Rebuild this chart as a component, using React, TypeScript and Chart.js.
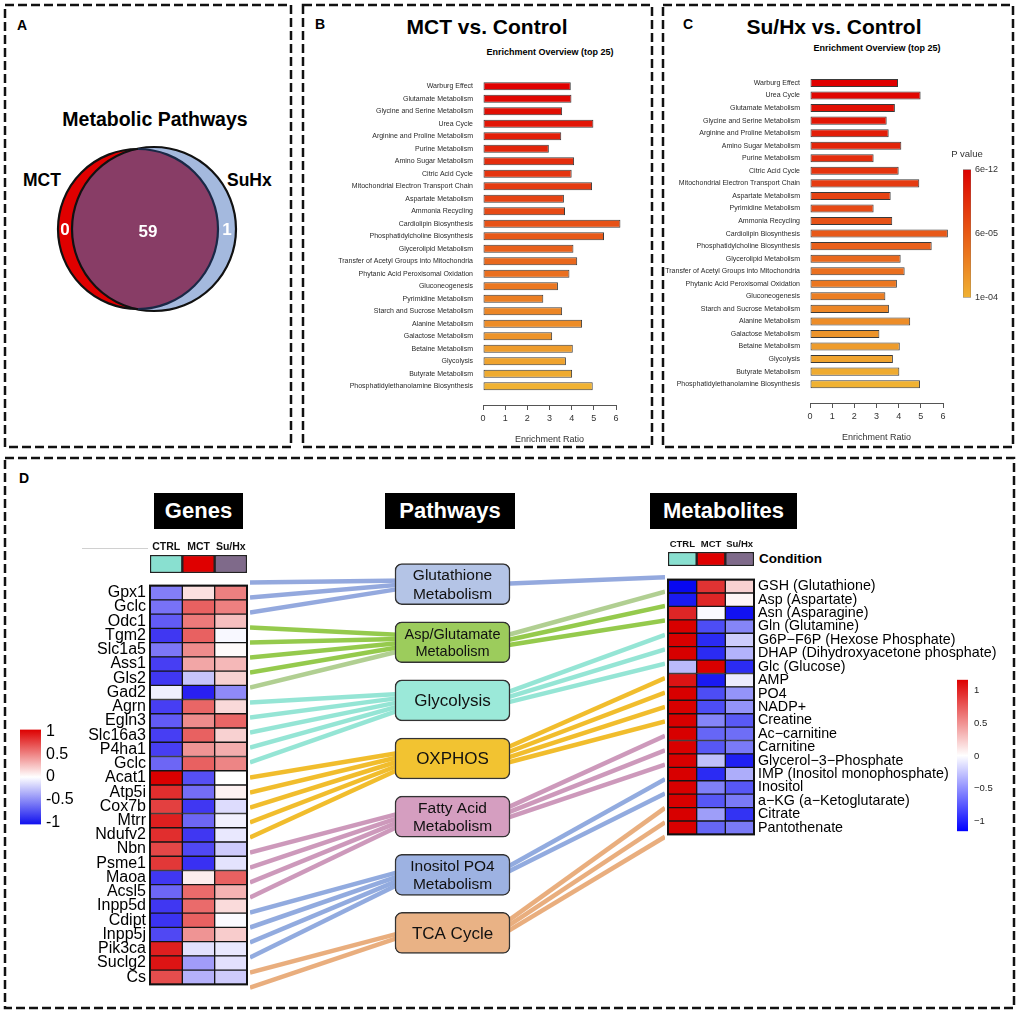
import React, { useEffect, useRef } from "react";
import { Chart, registerables } from "chart.js";

Chart.register(...registerables);

const FONT = "'Liberation Sans', Arial, Helvetica, sans-serif";
Chart.defaults.font.family = FONT;
Chart.defaults.color = "#222";

// ---------------- DATA ----------------
// Panel A – Venn counts
const vennSets = ["MCT", "SuHx"];
const vennUnique = [0, 1];
const vennShared = 59;

// Panel B – MCT vs. Control
const mctPathways = [
  "Warburg Effect", "Glutamate Metabolism", "Glycine and Serine Metabolism", "Urea Cycle",
  "Arginine and Proline Metabolism", "Purine Metabolism", "Amino Sugar Metabolism", "Citric Acid Cycle",
  "Mitochondrial Electron Transport Chain", "Aspartate Metabolism", "Ammonia Recycling",
  "Cardiolipin Biosynthesis", "Phosphatidylcholine Biosynthesis", "Glycerolipid Metabolism",
  "Transfer of Acetyl Groups into Mitochondria", "Phytanic Acid Peroxisomal Oxidation", "Gluconeogenesis",
  "Pyrimidine Metabolism", "Starch and Sucrose Metabolism", "Alanine Metabolism", "Galactose Metabolism",
  "Betaine Metabolism", "Glycolysis", "Butyrate Metabolism", "Phosphatidylethanolamine Biosynthesis",
];
const mctRatios = [3.96, 3.99, 3.57, 4.98, 3.53, 2.97, 4.11, 4.0, 4.92, 3.65, 3.7, 6.2, 5.46, 4.08, 4.25, 3.9, 3.38, 2.72, 3.57, 4.47, 3.12, 4.05, 3.74, 4.02, 4.95];

// Panel C – Su/Hx vs. Control
const suhxPathways = [
  "Warburg Effect", "Urea Cycle", "Glutamate Metabolism", "Glycine and Serine Metabolism",
  "Arginine and Proline Metabolism", "Amino Sugar Metabolism", "Purine Metabolism", "Citric Acid Cycle",
  "Mitochondrial Electron Transport Chain", "Aspartate Metabolism", "Pyrimidine Metabolism", "Ammonia Recycling",
  "Cardiolipin Biosynthesis", "Phosphatidylcholine Biosynthesis", "Glycerolipid Metabolism",
  "Transfer of Acetyl Groups into Mitochondria", "Phytanic Acid Peroxisomal Oxidation", "Gluconeogenesis",
  "Starch and Sucrose Metabolism", "Alanine Metabolism", "Galactose Metabolism", "Betaine Metabolism",
  "Glycolysis", "Butyrate Metabolism", "Phosphatidylethanolamine Biosynthesis",
];
const suhxRatios = [3.97, 4.99, 3.83, 3.46, 3.55, 4.12, 2.87, 4.0, 4.93, 3.64, 2.87, 3.71, 6.22, 5.49, 4.09, 4.27, 3.92, 3.4, 3.56, 4.52, 3.13, 4.05, 3.74, 4.03, 4.96];

const enrichmentTicks = [0, 1, 2, 3, 4, 5, 6];
const pValueTicks = ["6e-12", "6e-05", "1e-04"]; // top to bottom

// Panel D
const conditions = ["CTRL", "MCT", "Su/Hx"];
const geneNames = [
  "Gpx1", "Gclc", "Odc1", "Tgm2", "Slc1a5", "Ass1", "Gls2", "Gad2", "Agrn", "Egln3", "Slc16a3", "P4ha1", "Gclc",
  "Acat1", "Atp5i", "Cox7b", "Mtrr", "Ndufv2", "Nbn", "Psme1", "Maoa", "Acsl5", "Inpp5d", "Cdipt", "Inpp5j",
  "Pik3ca", "Suclg2", "Cs",
];
const geneCtrl = [-0.55, -0.6, -0.7, -0.85, -0.58, -0.82, -0.85, -0.07, -0.82, -0.7, -0.82, -0.82, -0.65, 1.0, 0.82, 0.75, 0.88, 0.82, 0.72, 0.78, -0.85, -0.65, -0.85, -0.87, -0.78, 0.88, 0.92, 0.7];
const geneMct = [0.12, 0.62, 0.52, 0.62, 0.45, 0.35, -0.25, -0.95, 0.6, 0.45, 0.62, 0.42, 0.62, -0.75, -0.62, -0.85, -0.65, -0.85, -0.78, -0.88, 0.07, 0.58, 0.58, 0.62, 0.42, -0.13, -0.42, -0.33];
const geneSuhx = [0.5, 0.5, 0.25, -0.03, 0.02, 0.28, 0.18, -0.5, 0.15, 0.6, 0.18, 0.32, 0.48, 0.0, 0.05, -0.15, -0.06, -0.1, -0.22, -0.12, 0.62, 0.3, 0.14, -0.02, 0.2, -0.1, -0.13, -0.22];

const metNames = [
  "GSH (Glutathione)", "Asp (Aspartate)", "Asn (Asparagine)", "Gln (Glutamine)", "G6P\u2212F6P (Hexose Phosphate)",
  "DHAP (Dihydroxyacetone phosphate)", "Glc (Glucose)", "AMP", "PO4", "NADP+", "Creatine", "Ac\u2212carnitine",
  "Carnitine", "Glycerol\u22123\u2212Phosphate", "IMP (Inositol monophosphate)", "Inositol",
  "a\u2212KG (a\u2212Ketoglutarate)", "Citrate", "Pantothenate",
];
const metCtrl = [-0.97, -0.9, 0.85, 1.0, 1.0, 1.0, -0.27, 0.92, 1.0, 1.0, 1.0, 1.0, 1.0, 1.0, 1.0, 1.0, 1.0, 1.0, 1.0];
const metMct = [0.8, 0.85, -0.02, -0.7, -0.83, -0.83, 1.0, -0.9, -0.7, -0.7, -0.48, -0.6, -0.66, -0.25, -0.83, -0.5, -0.66, -0.38, -0.6];
const metSuhx = [0.18, 0.04, -0.93, -0.48, -0.2, -0.3, -0.83, -0.08, -0.42, -0.42, -0.65, -0.57, -0.52, -0.88, -0.32, -0.66, -0.52, -0.8, -0.52];

const pathways = [
  "Glutathione\nMetabolism", "Asp/Glutamate\nMetabolism", "Glycolysis", "OXPHOS",
  "Fatty Acid\nMetabolism", "Inositol PO4\nMetabolism", "TCA Cycle",
];
const geneToPathway = [0, 0, 0, 1, 1, 1, 1, 1, 2, 2, 2, 2, 2, 3, 3, 3, 3, 3, 4, 4, 4, 4, 5, 5, 5, 5, 6, 6];
const metToPathway = [0, 1, 1, 1, 2, 2, 2, 3, 3, 3, 3, 4, 4, 4, 5, 5, 6, 6, 6];
const fadedGeneLinks = ["Gad2"];
const fadedMetLinks = ["Asp (Aspartate)"];

const geneLegendTicks = [-1, -0.5, 0, 0.5, 1];
const metLegendTicks = [-1, -0.5, 0, 0.5, 1];

// ---------------- STYLE / LAYOUT ----------------
const conditionColors = ["#89e0d0", "#df0000", "#7f6a8a"];
const pathwayFill = ["#b4c4e6", "#9ccc5c", "#9be9d9", "#f2c331", "#d59ec0", "#9db2e2", "#e9b285"];
const pathwayLine = ["rgba(136,160,218,0.9)", "rgba(137,196,58,0.9)", "rgba(138,226,208,0.9)", "rgba(240,182,22,0.9)", "rgba(200,142,180,0.9)", "rgba(134,162,220,0.9)", "rgba(231,165,112,0.9)"];
const fadedLine = "rgba(168,202,134,0.9)";
const pathwayFont = [15.5, 14.5, 17, 17, 15.5, 15.5, 17];

const L = {
  geneTop: 575, geneRow: 15, metTop: 570, metRow: 274 / 19,
  connLeft: 250, connRight: 665, connMin: -1, connMax: 28.4,
  boxLeft: 395, boxRight: 510, boxH: 41, pathTop: 584.1, pathStep: 58.14,
  fanGene: 3.5, fanMet: 4.5,
};

const base: any = {
  responsive: false,
  animation: false,
  events: [],
  plugins: { legend: { display: false }, tooltip: { enabled: false }, title: { display: false } },
};

function mix(a: number[], b: number[], t: number) {
  return a.map((v, i) => Math.round(v + (b[i] - v) * t));
}
function rgb(c: number[]) {
  return `rgb(${c[0]},${c[1]},${c[2]})`;
}
function ramp(t: number) {
  return rgb(mix([224, 0, 0], [240, 178, 50], t));
}
function heat(neg: number[], pos: number[]) {
  return (v: number) => {
    const t = Math.max(-1, Math.min(1, v));
    return rgb(mix([255, 255, 255], t < 0 ? neg : pos, Math.abs(t)));
  };
}
const geneHeat = heat([30, 20, 240], [218, 0, 0]);
const metHeat = heat([0, 0, 240], [216, 0, 0]);

const framePlugin = (lw: number) => ({
  id: "frame",
  afterDatasetsDraw(chart: any) {
    const { ctx, chartArea: a } = chart;
    ctx.save();
    ctx.strokeStyle = "#111";
    ctx.lineWidth = lw;
    ctx.strokeRect(a.left, a.top, a.right - a.left, a.bottom - a.top);
    ctx.restore();
  },
});

// ---------------- CONFIGS ----------------
function vennConfig() {
  const V = { mctDx: -10, suhxDx: 6, rMct: 80, rSuhx: 82 };
  const vennPlugin = {
    id: "venn",
    afterDatasetsDraw(chart: any) {
      const ctx = chart.ctx;
      const s = chart.getDatasetMeta(0).data[0];
      const m = chart.getDatasetMeta(1).data[0];
      const rs = s.options.radius, rm = m.options.radius;
      ctx.save();
      ctx.beginPath();
      ctx.arc(m.x, m.y, rm, 0, Math.PI * 2);
      ctx.clip();
      ctx.beginPath();
      ctx.arc(s.x, s.y, rs, 0, Math.PI * 2);
      ctx.fillStyle = "#883d66";
      ctx.fill();
      ctx.restore();
      ctx.save();
      ctx.lineWidth = 2.2;
      ctx.strokeStyle = "#111";
      ctx.beginPath();
      ctx.arc(s.x, s.y, rs, 0, Math.PI * 2);
      ctx.stroke();
      ctx.beginPath();
      ctx.arc(m.x, m.y, rm, Math.PI * 0.5, Math.PI * 1.5);
      ctx.stroke();
      ctx.strokeStyle = "#1a2846";
      ctx.beginPath();
      ctx.arc(m.x, m.y, rm, -Math.PI * 0.5, Math.PI * 0.5);
      ctx.stroke();
      ctx.fillStyle = "#fff";
      ctx.font = `bold 17px ${FONT}`;
      ctx.textAlign = "center";
      ctx.textBaseline = "middle";
      ctx.fillText(String(vennUnique[0]), (m.x - rm + s.x - rs) / 2, m.y + 1);
      ctx.fillText(String(vennShared), (s.x - rs + m.x + rm) / 2 + 3, m.y + 3);
      ctx.fillText(String(vennUnique[1]), (m.x + rm + s.x + rs) / 2, m.y + 1);
      ctx.restore();
    },
  };
  return {
    type: "bubble",
    data: {
      datasets: [
        { label: vennSets[1], data: [{ x: V.suhxDx, y: 0, r: V.rSuhx }], backgroundColor: "#a4b9de", borderWidth: 0, clip: false },
        { label: vennSets[0], data: [{ x: V.mctDx, y: 0, r: V.rMct }], backgroundColor: "#e00000", borderWidth: 0, clip: false },
      ],
    },
    options: {
      ...base,
      layout: { padding: 0, autoPadding: false },
      scales: { x: { display: false, min: -140, max: 140 }, y: { display: false, min: -95, max: 95 } },
    },
    plugins: [vennPlugin],
  };
}

function enrichmentConfig(labels: string[], values: number[], g: any) {
  const n = labels.length;
  return {
    type: "bar",
    data: {
      labels: [...labels, ""],
      datasets: [{
        data: values,
        backgroundColor: values.map((_, i) => ramp(i / (n - 1))),
        borderColor: "#3a3a3a",
        borderWidth: 1,
        borderSkipped: false,
        barPercentage: 0.64,
        categoryPercentage: 1,
        clip: false,
      }],
    },
    options: {
      ...base,
      indexAxis: "y",
      layout: { padding: { top: g.padTop, right: g.padRight, left: 0, bottom: 0 }, autoPadding: false },
      scales: {
        x: {
          type: "linear", min: 0, max: 6,
          afterBuildTicks: (s: any) => { s.ticks = enrichmentTicks.map((v) => ({ value: v })); },
          ticks: { font: { size: 9 }, color: "#333", padding: 3 },
          grid: { drawOnChartArea: false, drawTicks: true, tickLength: 5, color: "#555" },
          border: { display: true, color: "#555", width: 1 },
          title: { display: true, text: "Enrichment Ratio", font: { size: 9 }, color: "#333", padding: { top: 6, bottom: 0 } },
          afterFit: (s: any) => { s.height = 40; },
        },
        y: {
          grid: { display: false, drawTicks: false },
          border: { display: false },
          ticks: { autoSkip: false, font: { size: 7 }, color: "#2a2a2a", padding: 10 },
          afterFit: (s: any) => { s.width = g.yw; },
        },
      },
    },
  };
}

function colorbarConfig(o: any) {
  return {
    type: "bar",
    data: {
      labels: [""],
      datasets: [{
        data: [[o.min, o.max]],
        backgroundColor: (c: any) => {
          const a = c.chart.chartArea;
          if (!a) return o.stops[0];
          const gr = c.chart.ctx.createLinearGradient(0, a.top, 0, a.bottom);
          o.stops.forEach((col: string, i: number) => gr.addColorStop(i / (o.stops.length - 1), col));
          return gr;
        },
        borderWidth: o.borderWidth || 0,
        borderColor: "#666",
        borderSkipped: false,
        barPercentage: 1,
        categoryPercentage: 1,
      }],
    },
    options: {
      ...base,
      layout: { padding: { top: o.padTop, bottom: o.padBottom, left: 0, right: 0 }, autoPadding: false },
      scales: {
        x: { display: false },
        y: {
          position: "right", min: o.min, max: o.max, z: 1,
          afterBuildTicks: (s: any) => { s.ticks = o.ticks.map((v: number) => ({ value: v })); },
          ticks: { callback: (_v: any, i: number) => o.labels[i], font: { size: o.fontSize }, color: o.color, padding: o.padding },
          grid: { display: !!o.marks, drawTicks: false, color: "rgba(255,255,255,0.95)", lineWidth: 1 },
          border: { display: false, dash: [5, 11] },
          afterFit: (s: any) => { s.width = o.axisWidth; },
        },
      },
    },
  };
}

function heatmapConfig(rows: string[], cols: number[][], colorFn: (v: number) => string, side: string, fontSize: number, axisWidth: number, pad: any) {
  return {
    type: "bar",
    data: {
      labels: rows,
      datasets: cols.map((vals, c) => ({
        label: conditions[c],
        data: rows.map(() => 1),
        backgroundColor: vals.map(colorFn),
        borderColor: "#161616",
        borderWidth: 1,
        borderSkipped: false,
        barPercentage: 1,
        categoryPercentage: 1,
      })),
    },
    options: {
      ...base,
      indexAxis: "y",
      layout: { padding: pad, autoPadding: false },
      scales: {
        x: { type: "linear", stacked: true, min: 0, max: cols.length, display: false },
        y: {
          stacked: true, position: side,
          grid: { display: false, drawTicks: false },
          border: { display: false },
          ticks: { autoSkip: false, font: { size: fontSize }, color: "#000", padding: 4 },
          afterFit: (s: any) => { s.width = axisWidth; },
        },
      },
    },
    plugins: [framePlugin(2)],
  };
}

function conditionConfig(fontSize: number) {
  return {
    type: "bar",
    data: {
      labels: conditions,
      datasets: [{
        data: conditions.map(() => 1),
        backgroundColor: conditionColors,
        borderColor: "#222",
        borderWidth: 1.5,
        borderSkipped: false,
        barPercentage: 1,
        categoryPercentage: 1,
      }],
    },
    options: {
      ...base,
      layout: { padding: { left: 2, right: 2, top: 0, bottom: 0 }, autoPadding: false },
      scales: {
        x: {
          position: "top",
          grid: { display: false, drawTicks: false },
          border: { display: false },
          ticks: { font: { size: fontSize, weight: "bold" }, color: "#111", padding: 2, maxRotation: 0, autoSkip: false },
          afterFit: (s: any) => { s.height = 18; },
        },
        y: { display: false, min: 0, max: 1 },
      },
    },
  };
}

function connectionConfig() {
  const xU = (px: number) => (px - L.connLeft) / (L.connRight - L.connLeft);
  const yU = (px: number) => (px - L.geneTop) / L.geneRow;
  const pathY = pathways.map((_, k) => yU(L.pathTop + k * L.pathStep));
  const boxL = xU(L.boxLeft), boxR = xU(L.boxRight);
  const datasets: any[] = [{
    type: "bar",
    indexAxis: "y",
    order: 0,
    data: pathways.map((_, k) => ({ x: [boxL, boxR], y: pathY[k] })),
    backgroundColor: pathwayFill,
    borderColor: "#333",
    borderWidth: 1.5,
    borderRadius: 7,
    borderSkipped: false,
    barThickness: L.boxH,
    clip: false,
  }];
  const line = (p1: any, p2: any, color: string) => ({
    type: "line", order: 1, data: [p1, p2], borderColor: color, borderWidth: 4.5,
    pointRadius: 0, tension: 0, clip: false, fill: false, borderCapStyle: "butt",
  });
  geneNames.forEach((g, i) => {
    const p = geneToPathway[i];
    const members = geneToPathway.map((q, j) => (q === p ? j : -1)).filter((j) => j >= 0);
    const k = members.indexOf(i);
    const yEnd = pathY[p] + ((k - (members.length - 1) / 2) * L.fanGene) / L.geneRow;
    const col = fadedGeneLinks.includes(g) ? fadedLine : pathwayLine[p];
    datasets.push(line({ x: 0, y: i + 0.5 }, { x: boxL + 0.03, y: yEnd }, col));
  });
  metNames.forEach((m, j) => {
    const p = metToPathway[j];
    const members = metToPathway.map((q, t) => (q === p ? t : -1)).filter((t) => t >= 0);
    const k = members.indexOf(j);
    const yStart = pathY[p] + ((k - (members.length - 1) / 2) * L.fanMet) / L.geneRow;
    const yEnd = yU(L.metTop + L.metRow * (j + 0.5));
    const col = fadedMetLinks.includes(m) ? fadedLine : pathwayLine[p];
    datasets.push(line({ x: boxR - 0.03, y: yStart }, { x: 1, y: yEnd }, col));
  });
  const textPlugin = {
    id: "pwtext",
    afterDatasetsDraw(chart: any) {
      const ctx = chart.ctx;
      chart.getDatasetMeta(0).data.forEach((el: any, k: number) => {
        const lines = pathways[k].split("\n");
        const size = pathwayFont[k];
        const cx = (el.x + el.base) / 2, cy = el.y;
        ctx.save();
        ctx.font = `${size}px ${FONT}`;
        ctx.fillStyle = "#111";
        ctx.textAlign = "center";
        ctx.textBaseline = "middle";
        const lh = size * 1.18;
        lines.forEach((t, j) => ctx.fillText(t, cx, cy + (j - (lines.length - 1) / 2) * lh + 1));
        ctx.restore();
      });
    },
  };
  return {
    type: "bar",
    data: { datasets },
    options: {
      ...base,
      layout: { padding: 0, autoPadding: false },
      scales: {
        x: { type: "linear", min: 0, max: 1, display: false, offset: false },
        y: { type: "linear", min: L.connMin, max: L.connMax, reverse: true, display: false, offset: false, beginAtZero: false },
      },
    },
    plugins: [textPlugin],
  };
}

// ---------------- COMPONENTS ----------------
function ChartCanvas({ left, top, width, height, make }: any) {
  const ref = useRef<HTMLCanvasElement>(null);
  useEffect(() => {
    const chart = new Chart(ref.current as HTMLCanvasElement, make());
    return () => chart.destroy();
  }, []);
  return (
    <canvas
      ref={ref}
      width={width}
      height={height}
      style={{ position: "absolute", left, top, width, height, display: "block" }}
    />
  );
}

function Txt({ x, y, size, bold, align = "center", color = "#000", children }: any) {
  const tx = align === "center" ? "-50%" : align === "right" ? "-100%" : "0";
  return (
    <div
      style={{
        position: "absolute", left: x, top: y, transform: `translate(${tx}, -50%)`,
        fontSize: size, fontWeight: bold ? 700 : 400, color, whiteSpace: "nowrap",
        lineHeight: 1, fontFamily: FONT,
      }}
    >
      {children}
    </div>
  );
}

function BlackTitle({ x, y, w, h, children }: any) {
  return (
    <div
      style={{
        position: "absolute", left: x, top: y, width: w, height: h, background: "#000", color: "#fff",
        fontFamily: FONT, fontWeight: 700, fontSize: 22, display: "flex", alignItems: "center",
        justifyContent: "center", lineHeight: 1,
      }}
    >
      {children}
    </div>
  );
}

export default function App() {
  const boxes = [
    { x: 5, y: 5, w: 286, h: 442 },
    { x: 303, y: 5, w: 349, h: 442 },
    { x: 663, y: 5, w: 350, h: 442 },
    { x: 5, y: 458, w: 1009, h: 550 },
  ];
  return (
    <div style={{ position: "absolute", left: 0, top: 0, width: 1021, height: 1015, background: "#fff", overflow: "hidden", fontFamily: FONT }}>
      <svg width={1021} height={1015} style={{ position: "absolute", left: 0, top: 0 }}>
        {boxes.map((b, i) => (
          <rect key={i} x={b.x} y={b.y} width={b.w} height={b.h} fill="none" stroke="#111" strokeWidth={2.5} strokeDasharray="9 4" />
        ))}
      </svg>

      {/* Panel A */}
      <Txt x={17} y={25} size={14} bold align="left">A</Txt>
      <Txt x={155} y={120} size={19.5} bold>Metabolic Pathways</Txt>
      <Txt x={23} y={181} size={17.5} bold align="left">{vennSets[0]}</Txt>
      <Txt x={227} y={181} size={17.5} bold align="left">{vennSets[1]}</Txt>
      <ChartCanvas left={8} top={134} width={280} height={190} make={vennConfig} />

      {/* Panel B */}
      <Txt x={315} y={24} size={14} bold align="left">B</Txt>
      <Txt x={487} y={26} size={21} bold>MCT vs. Control</Txt>
      <Txt x={550} y={52} size={9} bold>Enrichment Overview (top 25)</Txt>
      <ChartCanvas left={303} top={60} width={340} height={385}
        make={() => enrichmentConfig(mctPathways, mctRatios, { yw: 180, padTop: 20, padRight: 27 })} />

      {/* Panel C */}
      <Txt x={683} y={24} size={14} bold align="left">C</Txt>
      <Txt x={834} y={26} size={21} bold>Su/Hx vs. Control</Txt>
      <Txt x={877} y={48} size={9} bold>Enrichment Overview (top 25)</Txt>
      <ChartCanvas left={663} top={60} width={300} height={383}
        make={() => enrichmentConfig(suhxPathways, suhxRatios, { yw: 147, padTop: 16.7, padRight: 20 })} />
      <Txt x={967} y={154} size={9.5} color="#333">P value</Txt>
      <ChartCanvas left={963} top={160} width={50} height={147}
        make={() => colorbarConfig({
          min: 0, max: 2, ticks: [0, 1, 2], labels: [...pValueTicks].reverse(),
          stops: ["#dd0000", "#e85a14", "#f0b232"], fontSize: 9, color: "#333", padding: 4,
          axisWidth: 42, padTop: 7, padBottom: 7, borderWidth: 0.6,
        })} />

      {/* Panel D */}
      <Txt x={19} y={478} size={14} bold align="left">D</Txt>
      <BlackTitle x={154} y={493} w={89} h={36}>Genes</BlackTitle>
      <BlackTitle x={385} y={493} w={130} h={36}>Pathways</BlackTitle>
      <BlackTitle x={650} y={493} w={147} h={36}>Metabolites</BlackTitle>
      <div style={{ position: "absolute", left: 82, top: 548, width: 66, height: 1, background: "#d0d0d0" }} />

      <ChartCanvas left={148} top={537} width={101} height={36} make={() => conditionConfig(10.5)} />
      <ChartCanvas left={56} top={572} width={194} height={426}
        make={() => heatmapConfig(geneNames, [geneCtrl, geneMct, geneSuhx], geneHeat, "left", 16, 94, { left: 0, top: 3, right: 3, bottom: 3 })} />
      <ChartCanvas left={20} top={715} width={61} height={124}
        make={() => colorbarConfig({
          min: -1.04, max: 1.04, ticks: geneLegendTicks, labels: geneLegendTicks.map((v) => String(v)),
          stops: ["#dd0000", "#ffffff", "#1010ee"], fontSize: 16, color: "#000", padding: 5,
          axisWidth: 40, padTop: 10, padBottom: 10, marks: true,
        })} />

      <ChartCanvas left={250} top={L.geneTop + L.connMin * L.geneRow} width={L.connRight - L.connLeft}
        height={(L.connMax - L.connMin) * L.geneRow} make={connectionConfig} />

      <ChartCanvas left={666} top={534} width={90} height={32} make={() => conditionConfig(9.5)} />
      <Txt x={759} y={559} size={13.5} bold align="left">Condition</Txt>
      <ChartCanvas left={665} top={567} width={345} height={280}
        make={() => heatmapConfig(metNames, [metCtrl, metMct, metSuhx], metHeat, "right", 14.3, 256, { left: 3, top: 3, right: 0, bottom: 3 })} />
      <ChartCanvas left={957} top={668} width={50} height={175}
        make={() => colorbarConfig({
          min: -1.15, max: 1.17, ticks: metLegendTicks,
          labels: metLegendTicks.map((v) => (v < 0 ? "\u2212" + Math.abs(v) : String(v))),
          stops: ["#dd0000", "#ffffff", "#0000ff"], fontSize: 9.5, color: "#222", padding: 6,
          axisWidth: 39, padTop: 7, padBottom: 7,
        })} />
    </div>
  );
}
